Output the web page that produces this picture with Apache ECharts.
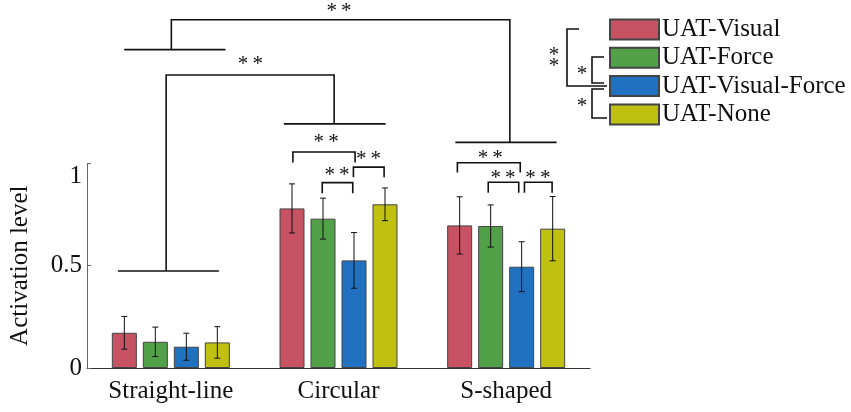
<!DOCTYPE html>
<html>
<head>
<meta charset="utf-8">
<script src="https://cdn.jsdelivr.net/npm/echarts@6/dist/echarts.min.js"></script>
<style>html,body{margin:0;padding:0;background:#fff;}#c{width:851px;height:412px;}</style>
</head>
<body>
<div id="c"></div>
<script>
// ---- data ----
const categories = ['Straight-line', 'Circular', 'S-shaped'];
const seriesNames = ['UAT-Visual', 'UAT-Force', 'UAT-Visual-Force', 'UAT-None'];
const visualMean = [0.172, 0.780, 0.697];
const forceMean = [0.128, 0.730, 0.694];
const visualForceMean = [0.104, 0.526, 0.495];
const noneMean = [0.125, 0.800, 0.681];
const visualErr = [0.080, 0.120, 0.140];
const forceErr = [0.072, 0.100, 0.103];
const visualForceErr = [0.066, 0.136, 0.122];
const noneErr = [0.077, 0.080, 0.157];
const yTicks = [0, 0.5, 1];

// significance annotations: [category units, value units]
const sigLines = [
  [[-0.316, 0.474], [0.287, 0.474]],
  [[-0.028, 0.474], [-0.028, 1.432], [0.974, 1.432], [0.974, 1.193]],
  [[0.674, 1.193], [1.281, 1.193]],
  [[-0.278, 1.556], [0.326, 1.556]],
  [[0.003, 1.556], [0.003, 1.702], [2.022, 1.702], [2.022, 1.103]],
  [[1.697, 1.103], [2.301, 1.103]],
  [[0.728, 1.005], [0.728, 1.056], [1.099, 1.056], [1.099, 1.005]],
  [[0.903, 0.854], [0.903, 0.906], [1.085, 0.906], [1.085, 0.854]],
  [[1.089, 0.932], [1.089, 0.982], [1.272, 0.982], [1.272, 0.932]],
  [[1.709, 0.955], [1.709, 1.003], [2.084, 1.003], [2.084, 0.955]],
  [[1.893, 0.857], [1.893, 0.908], [2.075, 0.908], [2.075, 0.857]],
  [[2.109, 0.857], [2.109, 0.908], [2.274, 0.908], [2.274, 0.857]]
];
const sigStars = [
  [0.474, 1.497], [1.003, 1.758], [0.926, 1.118], [0.991, 0.955],
  [1.179, 1.033], [1.905, 1.041], [1.981, 0.943], [2.189, 0.943]
];

// ---- style ----
const FONT = '"Liberation Serif", "Times New Roman", serif';
const colors = ['#C65264', '#52A047', '#2072C0', '#C0C010'];
const BAR_W = 25, BAR_GAP = 6;
const means = [visualMean, forceMean, visualForceMean, noneMean];
const errs = [visualErr, forceErr, visualForceErr, noneErr];

const chart = echarts.init(document.getElementById('c'));

const series = [];
seriesNames.forEach((name, i) => {
  series.push({
    name: name, type: 'bar', data: means[i],
    barWidth: BAR_W, barGap: (BAR_GAP / BAR_W * 100) + '%',
    itemStyle: { color: colors[i], borderColor: '#444', borderWidth: 1 },
    z: 2
  });
});
seriesNames.forEach((name, i) => {
  const offset = (i - 1.5) * (BAR_W + BAR_GAP);
  series.push({
    type: 'custom', silent: true, z: 5,
    data: means[i].map((m, j) => [j, m, errs[i][j]]),
    renderItem: function (params, api) {
      const j = api.value(0), m = api.value(1), e = api.value(2);
      const cx = api.coord([j, 0])[0] + offset;
      const yt = api.coord([j, m + e])[1];
      const yb = api.coord([j, m - e])[1];
      const st = { stroke: '#111', lineWidth: 1 };
      return { type: 'group', children: [
        { type: 'line', shape: { x1: cx, y1: yt, x2: cx, y2: yb }, style: st },
        { type: 'line', shape: { x1: cx - 3, y1: yt, x2: cx + 3, y2: yt }, style: st },
        { type: 'line', shape: { x1: cx - 3, y1: yb, x2: cx + 3, y2: yb }, style: st }
      ]};
    }
  });
});

chart.setOption({
  animation: false,
  backgroundColor: '#fff',
  grid: { left: 81, right: 261, top: 163.4, bottom: 44 },
  legend: {
    orient: 'vertical', left: 609, top: 17, padding: 0,
    data: seriesNames, itemWidth: 49, itemHeight: 20, itemGap: 3.3,
    icon: 'rect',
    textStyle: { fontFamily: FONT, fontSize: 25, color: '#111', padding: [0, 0, 0, -2] }
  },
  xAxis: {
    type: 'category', data: categories,
    axisLine: { lineStyle: { color: '#333', width: 1 } },
    axisTick: { alignWithLabel: true, inside: true, length: 4, lineStyle: { color: '#555' } },
    axisLabel: { fontFamily: FONT, fontSize: 25, color: '#111', margin: 11 }
  },
  yAxis: {
    type: 'value', min: 0, max: 1, interval: 0.5,
    name: 'Activation level', nameLocation: 'middle', nameGap: 54,
    nameTextStyle: { fontFamily: FONT, fontSize: 25, color: '#111' },
    splitLine: { show: false },
    axisLine: { show: true, lineStyle: { color: '#666', width: 1 } },
    axisTick: { show: true, inside: true, length: 4, lineStyle: { color: '#666' } },
    axisLabel: {
      fontFamily: FONT, fontSize: 25, color: '#111', margin: 5,
      formatter: function (v) { return v === 1 ? '{d|1}' : (yTicks.indexOf(v) >= 0 ? String(v) : ''); },
      rich: { d: { fontFamily: FONT, fontSize: 25, color: '#111', padding: [26, 0, 0, 0] } }
    }
  },
  series: series
});

// ---- annotations ----
function toPx(p) {
  const x0 = chart.convertToPixel({ xAxisIndex: 0 }, categories[0]);
  const x1 = chart.convertToPixel({ xAxisIndex: 0 }, categories[1]);
  const y = chart.convertToPixel({ yAxisIndex: 0 }, p[1]);
  return [x0 + p[0] * (x1 - x0), y];
}
const graphics = [];
sigLines.forEach(pl => {
  graphics.push({ type: 'polyline', shape: { points: pl.map(toPx) },
    style: { stroke: '#111', lineWidth: 1.6, fill: null }, z: 10 });
});
sigStars.forEach(s => {
  const p = toPx(s);
  graphics.push({ type: 'text', x: p[0], y: p[1] + 3,
    style: { text: '*\u2009*', font: '21px ' + FONT, fill: '#111', align: 'center', verticalAlign: 'middle' }, z: 10 });
});
// legend significance brackets
const lb = { stroke: '#111', lineWidth: 1.6, fill: null };
graphics.push({ type: 'polyline', shape: { points: [[579, 29], [567, 29], [567, 86], [607, 86]] }, style: lb, z: 10 });
graphics.push({ type: 'polyline', shape: { points: [[604, 57], [592, 57], [592, 83], [604, 83]] }, style: lb, z: 10 });
graphics.push({ type: 'polyline', shape: { points: [[604, 89], [592, 89], [592, 118], [607, 118]] }, style: lb, z: 10 });
graphics.push({ type: 'text', x: 554, y: 55, style: { text: '*', font: '21px ' + FONT, fill: '#111', align: 'center', verticalAlign: 'middle' }, z: 10 });
graphics.push({ type: 'text', x: 554, y: 66, style: { text: '*', font: '21px ' + FONT, fill: '#111', align: 'center', verticalAlign: 'middle' }, z: 10 });
graphics.push({ type: 'text', x: 582, y: 74, style: { text: '*', font: '21px ' + FONT, fill: '#111', align: 'center', verticalAlign: 'middle' }, z: 10 });
graphics.push({ type: 'text', x: 582, y: 106, style: { text: '*', font: '21px ' + FONT, fill: '#111', align: 'center', verticalAlign: 'middle' }, z: 10 });
chart.setOption({ graphic: graphics });
</script>
</body>
</html>
